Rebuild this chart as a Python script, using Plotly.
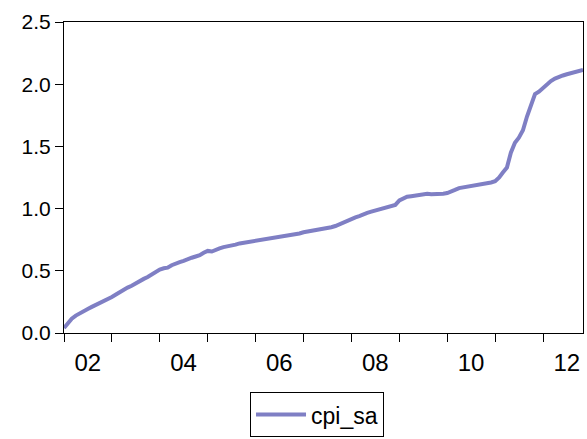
import pandas as pd
import plotly.graph_objects as go

# Monthly seasonally adjusted CPI index, 2002M01 - 2012M11
start_month = "2002-01-01"
cpi_sa = [
    0.04, 0.085, 0.115, 0.14, 0.16, 0.177, 0.193, 0.21, 0.225, 0.24, 0.255, 0.27,
    0.29, 0.31, 0.33, 0.35, 0.365, 0.38, 0.40, 0.42, 0.435, 0.45, 0.47, 0.49,
    0.51, 0.52, 0.525, 0.545, 0.56, 0.57, 0.58, 0.595, 0.605, 0.615, 0.625, 0.645,
    0.66, 0.655, 0.67, 0.68, 0.69, 0.695, 0.70, 0.71, 0.72, 0.725, 0.73, 0.735,
    0.74, 0.745, 0.75, 0.755, 0.765, 0.77, 0.775, 0.78, 0.785, 0.79, 0.795, 0.80,
    0.81, 0.815, 0.82, 0.825, 0.83, 0.835, 0.84, 0.85, 0.86, 0.875, 0.89, 0.905,
    0.92, 0.93, 0.94, 0.955, 0.965, 0.975, 0.985, 0.995, 1.005, 1.015, 1.02, 1.03,
    1.065, 1.08, 1.095, 1.10, 1.105, 1.11, 1.12, 1.12, 1.115, 1.115, 1.115, 1.12,
    1.125, 1.135, 1.15, 1.165, 1.17, 1.175, 1.18, 1.185, 1.19, 1.195, 1.20, 1.21,
    1.22, 1.25, 1.29, 1.33, 1.45, 1.53, 1.57, 1.63, 1.74, 1.82, 1.92, 1.94,
    1.97, 2.00, 2.025, 2.045, 2.06, 2.07, 2.08, 2.09, 2.10, 2.105, 2.115,
]
year_labels = ["02", "04", "06", "08", "10", "12"]
label_years = [2002, 2004, 2006, 2008, 2010, 2012]
boundary_years = list(range(2002, 2013))

dates = pd.date_range(start_month, periods=len(cpi_sa), freq="MS")

family = "Liberation Sans, Arial, sans-serif"

fig = go.Figure()
fig.add_trace(go.Scatter(
    x=dates, y=cpi_sa, mode="lines", name="cpi_sa",
    line=dict(color="#7f7fc4", width=4),
))

fig.update_layout(
    width=587, height=439,
    margin=dict(l=64, r=4, t=22, b=106, autoexpand=False),
    paper_bgcolor="white", plot_bgcolor="white",
    font=dict(family=family, size=21, color="black"),
    showlegend=True,
    legend=dict(
        orientation="h", x=0.4875, xanchor="center", y=-0.19, yanchor="top",
        bordercolor="black", borderwidth=1, itemwidth=50,
        font=dict(family=family, size=23, color="black"),
    ),
)

fig.update_xaxes(
    range=[dates[0], dates[-1]],
    automargin=False,
    tickmode="array",
    tickvals=[pd.Timestamp(f"{y}-07-01") for y in label_years],
    ticktext=year_labels,
    tickfont=dict(family=family, size=24, color="black"),
    ticks="outside", ticklen=8, tickcolor="rgba(0,0,0,0)",
    minor=dict(
        tickmode="array",
        tickvals=[pd.Timestamp(f"{y}-01-01") for y in boundary_years],
        ticks="outside", ticklen=8, tickcolor="black", tickwidth=1,
        showgrid=False,
    ),
    showgrid=False, zeroline=False,
    showline=True, linecolor="black", linewidth=1, mirror=True,
)

fig.update_yaxes(
    range=[0, 2.5], tickmode="array",
    automargin=False,
    tickvals=[0, 0.5, 1.0, 1.5, 2.0, 2.5],
    tickformat=".1f",
    tickfont=dict(family=family, size=21, color="black"),
    ticks="outside", ticklen=8, tickcolor="black",
    showgrid=False, zeroline=False,
    showline=True, linecolor="black", linewidth=1, mirror=True,
)

fig.write_html("out.html")
